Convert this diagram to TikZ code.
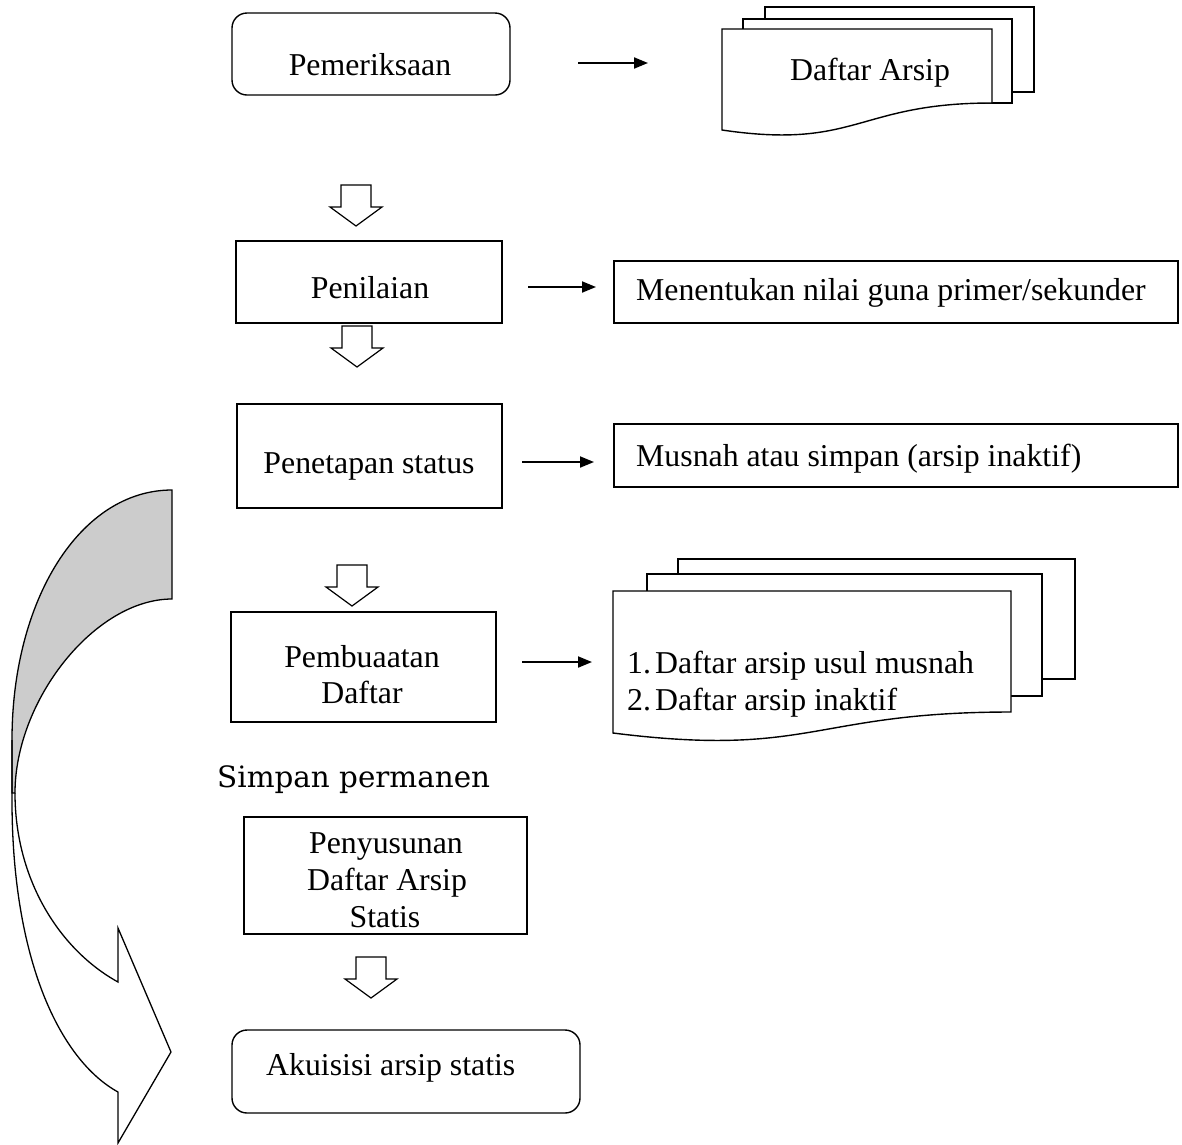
\documentclass[tikz,border=0pt]{standalone}
\usepackage{fontspec}
\setmainfont{Liberation Serif}
\newfontfamily\bookfont{DejaVu Serif}
\usetikzlibrary{arrows.meta}
\begin{document}
\begin{tikzpicture}[x=1pt,y=-1pt,
  box/.style={draw, line width=1.4pt, inner sep=0pt, outer sep=0pt},
  rbox/.style={box, rounded corners=15pt},
  txt/.style={inner sep=0pt, font=\fontsize{31.8}{36.5}\selectfont},
  sheet/.style={draw, fill=white, line width=1.4pt},
  arr/.style={line width=1.9pt, -{Triangle[length=14pt,width=11pt]}},
  hollow/.pic={\draw[line width=1.2pt, fill=white] (-15,0) -- (15,0) -- (15,22) -- (26,22) -- (0,41) -- (-26,22) -- (-15,22) -- cycle;}
]
\useasboundingbox (0,0) rectangle (1182,1144);

% ---- boxes
\node[rbox, minimum width=278pt, minimum height=82pt] (pem) at (371,54) {};
\node[box, minimum width=266pt, minimum height=82pt] (pen) at (369,282) {};
\node[box, minimum width=564pt, minimum height=62pt] (men) at (896,292) {};
\node[box, minimum width=265pt, minimum height=104pt] (pet) at (369.5,456) {};
\node[box, minimum width=564pt, minimum height=63pt] (mus) at (896,455.5) {};
\node[box, minimum width=265pt, minimum height=110pt] (pmb) at (363.5,667) {};
\node[box, minimum width=283pt, minimum height=117pt] (pys) at (385.5,875.5) {};
\node[rbox, minimum width=348pt, minimum height=83pt] (aku) at (406,1071.5) {};

% ---- multi-document 1
\draw[sheet] (765,7) rectangle (1034,92);
\draw[sheet] (743,19) rectangle (1012,103);
\draw[sheet] (722,29) -- (992,29) -- (992,103) .. controls (857,103) and (857,150) .. (722,130) -- cycle;
% ---- multi-document 2
\draw[sheet] (678,559) rectangle (1075,679);
\draw[sheet] (647,574) rectangle (1042,696);
\draw[sheet] (613,591) -- (1011,591) -- (1011,712) .. controls (812,712) and (812,758) .. (613,733) -- cycle;

% ---- texts
\node[txt, anchor=base] (pemT) at (370,75) {Pemeriksaan};
\node[txt, anchor=base] (dafT) at (870,80) {Daftar Arsip};
\node[txt, anchor=base] (penT) at (370,298) {Penilaian};
\node[txt, anchor=base west] (menT) at (636,300) {Menentukan nilai guna primer/sekunder};
\node[txt, anchor=base] (petT) at (369,473) {Penetapan status};
\node[txt, anchor=base west] (musT) at (636,466) {Musnah atau simpan (arsip inaktif)};
\node[txt, anchor=base] (pmbT1) at (362,667) {Pembuaatan};
\node[txt, anchor=base] (pmbT2) at (362,703) {Daftar};
\node[txt, anchor=base west] (lst1) at (627,673) {\makebox[28pt][l]{1.}Daftar arsip usul musnah};
\node[txt, anchor=base west] (lst2) at (627,710) {\makebox[28pt][l]{2.}Daftar arsip inaktif};
\node[inner sep=0pt, anchor=base west, font=\bookfont\fontsize{29.4}{34}\selectfont] (simp) at (217,787) {Simpan permanen};
\node[txt, anchor=base] (pysT1) at (386,853) {Penyusunan};
\node[txt, anchor=base] (pysT2) at (387,890) {Daftar Arsip};
\node[txt, anchor=base] (pysT3) at (385,927) {Statis};
\node[txt, anchor=base west] (akuT) at (266,1075) {Akuisisi arsip statis};

% ---- black arrows
\coordinate (a1s) at (578,63);  \coordinate (a1e) at (648,63);
\coordinate (a2s) at (528,287); \coordinate (a2e) at (596,287);
\coordinate (a3s) at (522,462); \coordinate (a3e) at (594,462);
\coordinate (a4s) at (522,662); \coordinate (a4e) at (592,662);
\draw[arr] (a1s) -- (a1e);
\draw[arr] (a2s) -- (a2e);
\draw[arr] (a3s) -- (a3e);
\draw[arr] (a4s) -- (a4e);

% ---- hollow down arrows
\pic at (356,185) {hollow};
\pic at (357,326) {hollow};
\pic at (352,565) {hollow};
\pic at (371,957) {hollow};

% ---- curved arrow
\filldraw[fill=black!20, line width=1.3pt] (172,490) .. controls (80,490) and (12,600) .. (12,740) -- (12,793) -- (15,793) .. controls (15,700) and (95,599) .. (172,599) -- cycle;
\draw[line width=1.3pt, line join=miter] (12,740) -- (12,800) .. controls (12,960) and (60,1060) .. (118,1092) -- (118,1143) -- (171,1052) -- (118,928) -- (118,982) .. controls (60,950) and (15,880) .. (15,793);
\end{tikzpicture}
\end{document}
